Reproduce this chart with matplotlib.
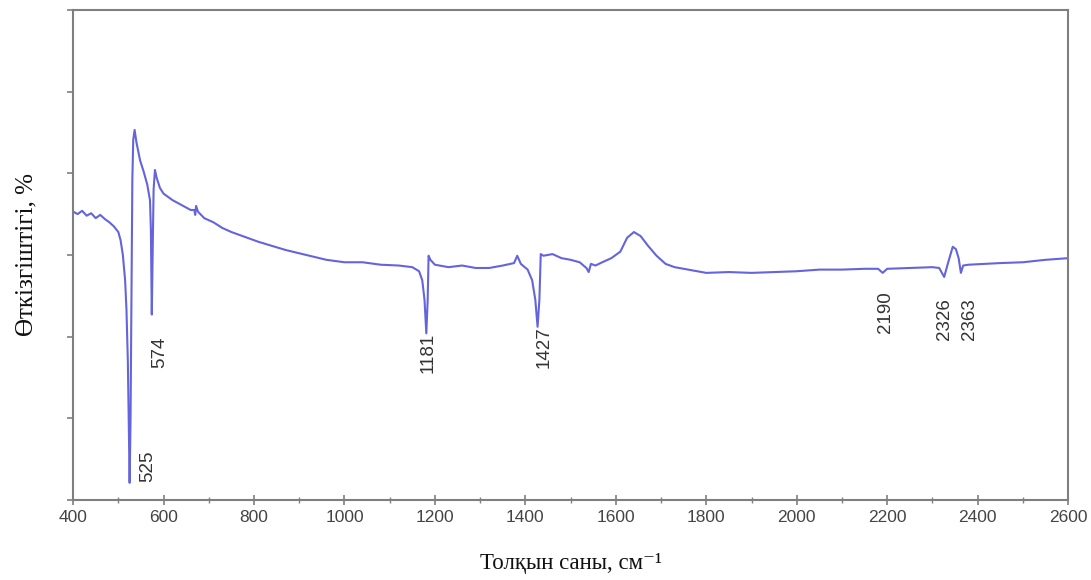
import numpy as np
import matplotlib.pyplot as plt
from matplotlib.ticker import MultipleLocator

# IR spectrum (wavenumber, transmittance in arbitrary units)
wavenumber = [400, 410, 420, 430, 440, 450, 460, 470, 480, 490, 500, 505, 510, 515, 518,
              521, 523, 525, 527, 529, 531, 533, 536, 540, 548, 556, 564, 570, 572, 574,
              576, 578, 581, 585, 592, 600, 620, 640, 660, 668, 670, 672, 676, 690, 710,
              730, 750, 780, 810, 840, 870, 900, 930, 960, 1000, 1040, 1080, 1120, 1150,
              1165, 1172, 1177, 1181, 1184, 1186, 1190, 1200, 1230, 1260, 1290, 1320, 1350,
              1375, 1382, 1390, 1405, 1415, 1422, 1427, 1431, 1434, 1440, 1460, 1480, 1500,
              1520, 1535, 1540, 1545, 1555, 1570, 1590, 1610, 1625, 1640, 1655, 1670, 1690,
              1710, 1730, 1760, 1800, 1850, 1900, 1950, 2000, 2050, 2100, 2150, 2180, 2190,
              2200, 2250, 2300, 2315, 2326, 2335, 2345, 2352, 2358, 2363, 2368, 2380, 2450,
              2500, 2550, 2600]
transmittance = [3.53, 3.50, 3.54, 3.48, 3.51, 3.45, 3.49, 3.44, 3.40, 3.35, 3.28, 3.18, 3.00, 2.69, 2.33,
                 1.71, 0.98, 0.21, 0.98, 2.45, 3.92, 4.41, 4.53, 4.38, 4.16, 4.02, 3.86, 3.67, 3.31, 2.27,
                 3.06, 3.80, 4.04, 3.94, 3.82, 3.75, 3.67, 3.61, 3.55, 3.55, 3.49, 3.60, 3.53, 3.45, 3.40,
                 3.33, 3.28, 3.22, 3.16, 3.11, 3.06, 3.02, 2.98, 2.94, 2.91, 2.91, 2.88, 2.87, 2.85,
                 2.80, 2.69, 2.45, 2.04, 2.45, 2.99, 2.94, 2.88, 2.85, 2.87, 2.84, 2.84, 2.87,
                 2.90, 2.99, 2.89, 2.82, 2.69, 2.45, 2.12, 2.45, 3.01, 2.99, 3.01, 2.96, 2.94,
                 2.91, 2.84, 2.79, 2.89, 2.87, 2.91, 2.96, 3.04, 3.21, 3.28, 3.23, 3.12, 2.99,
                 2.89, 2.85, 2.82, 2.78, 2.79, 2.78, 2.79, 2.80, 2.82, 2.82, 2.83, 2.83, 2.78,
                 2.83, 2.84, 2.85, 2.84, 2.73, 2.91, 3.10, 3.07, 2.96, 2.78, 2.87, 2.88, 2.90,
                 2.91, 2.94, 2.96]

# peak labels and where their text sits
peak_labels = ['525', '574', '1181', '1427', '2190', '2326', '2363']
label_x = [566, 592, 1185, 1441, 2197, 2326, 2381]
label_y = [0.22, 1.62, 1.55, 1.61, 2.04, 1.96, 1.96]

line_color = '#6464dc'
axis_color = '#7f7f7f'

fig = plt.figure(figsize=(10.91, 5.80), dpi=100)
ax = fig.add_axes([0.067, 0.138, 0.912, 0.845])

ax.plot(wavenumber, transmittance, color=line_color, lw=1.5)

for lab, x, y in zip(peak_labels, label_x, label_y):
    ax.text(x, y, lab, rotation=90, ha='center', va='bottom',
            fontsize=13.5, family='Liberation Sans', color='#333333')

ax.set_xlim(400, 2600)
ax.set_ylim(0, 6)
ax.xaxis.set_major_locator(MultipleLocator(200))
ax.xaxis.set_minor_locator(MultipleLocator(100))
ax.yaxis.set_major_locator(MultipleLocator(1))
ax.set_yticklabels([])

for s in ax.spines.values():
    s.set_color(axis_color)
    s.set_linewidth(1.5)

ax.tick_params(axis='x', which='major', direction='inout', length=7, width=1.2,
               color=axis_color, labelsize=12.5, labelcolor='#444444', pad=4)
ax.tick_params(axis='x', which='minor', direction='inout', length=4, width=1,
               color=axis_color)
ax.tick_params(axis='y', which='major', direction='out', length=4, width=1.2,
               color=axis_color)
for t in ax.get_xticklabels():
    t.set_family('Liberation Sans')

ax.set_xlabel('Толқын саны, см⁻¹', fontsize=16.5,
              family=['Liberation Serif', 'DejaVu Serif'],
              labelpad=20, color='#111111')
ax.set_ylabel('Өткізгіштігі, %', fontsize=18, family='Liberation Serif',
              labelpad=18, color='#111111')

fig.savefig('out.png', dpi=100)
